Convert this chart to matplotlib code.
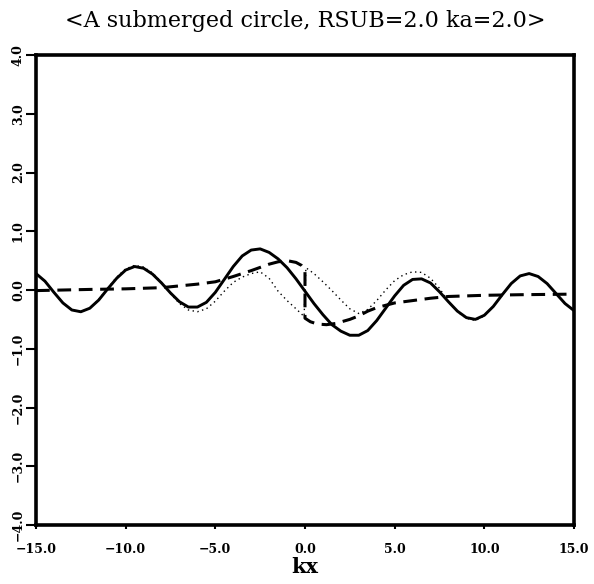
import matplotlib
matplotlib.use('Agg')
import matplotlib.pyplot as plt
import numpy as np

# values
kx = [-15.0, -14.5, -14.0, -13.5, -13.0, -12.5, -12.0, -11.5, -11.0, -10.5,
      -10.0, -9.5, -9.0, -8.5, -8.0, -7.5, -7.0, -6.5, -6.0, -5.5,
      -5.0, -4.5, -4.0, -3.5, -3.0, -2.5, -2.0, -1.5, -1.0, -0.5,
      0.0, 0.5, 1.0, 1.5, 2.0, 2.5, 3.0, 3.5, 4.0, 4.5,
      5.0, 5.5, 6.0, 6.5, 7.0, 7.5, 8.0, 8.5, 9.0, 9.5,
      10.0, 10.5, 11.0, 11.5, 12.0, 12.5, 13.0, 13.5, 14.0, 14.5, 15.0]
solid = [0.28, 0.15, -0.04, -0.22, -0.34, -0.37, -0.31, -0.17, 0.02, 0.20,
         0.34, 0.40, 0.37, 0.27, 0.12, -0.05, -0.20, -0.29, -0.29, -0.21,
         -0.04, 0.18, 0.40, 0.58, 0.68, 0.70, 0.64, 0.53, 0.38, 0.19,
         -0.02, -0.23, -0.42, -0.59, -0.70, -0.77, -0.77, -0.69, -0.52, -0.31,
         -0.10, 0.08, 0.18, 0.19, 0.12, -0.03, -0.20, -0.36, -0.47, -0.50,
         -0.43, -0.28, -0.08, 0.11, 0.24, 0.28, 0.23, 0.11, -0.06, -0.23, -0.35]

kx_dot = [-15.0, -14.5, -14.0, -13.5, -13.0, -12.5, -12.0, -11.5, -11.0, -10.5,
          -10.0, -9.5, -9.0, -8.5, -8.0, -7.5, -7.0, -6.5, -6.0, -5.5,
          -5.0, -4.5, -4.0, -3.5, -3.0, -2.5, -2.0, -1.5, -1.0, -0.5,
          -0.05, 0.05, 0.5, 1.0, 1.5, 2.0, 2.5, 3.0, 3.5, 4.0, 4.5,
          5.0, 5.5, 6.0, 6.5, 7.0, 7.5, 8.0, 8.5, 9.0, 9.5,
          10.0, 10.5, 11.0, 11.5, 12.0, 12.5, 13.0, 13.5, 14.0, 14.5, 15.0]
dotted = [0.28, 0.15, -0.04, -0.22, -0.34, -0.37, -0.31, -0.16, 0.03, 0.22,
          0.36, 0.42, 0.39, 0.29, 0.13, -0.06, -0.23, -0.34, -0.37, -0.32,
          -0.19, -0.02, 0.13, 0.22, 0.28, 0.31, 0.20, -0.02, -0.18, -0.32,
          -0.45, 0.38, 0.28, 0.14, -0.01, -0.17, -0.32, -0.40, -0.33, -0.18, 0.00,
          0.16, 0.26, 0.31, 0.30, 0.20, 0.03, -0.20, -0.37, -0.48, -0.52,
          -0.44, -0.28, -0.08, 0.11, 0.24, 0.28, 0.23, 0.11, -0.06, -0.23, -0.35]

kx_dash = [-15.0, -12.0, -10.0, -8.0, -6.0, -5.0, -4.0, -3.0, -2.0, -1.5,
           -1.0, -0.5, -0.2, 0.0, 0.0, 0.3, 0.7, 1.2, 1.7, 2.5,
           3.0, 3.5, 4.0, 5.0, 6.0, 7.0, 8.0, 10.0, 12.0, 15.0]
dashed = [-0.01, 0.01, 0.02, 0.04, 0.10, 0.14, 0.23, 0.33, 0.44, 0.48,
          0.50, 0.47, 0.42, 0.35, -0.48, -0.54, -0.58, -0.59, -0.57, -0.50,
          -0.44, -0.36, -0.30, -0.22, -0.18, -0.14, -0.11, -0.09, -0.08, -0.07]

xticks = [-15, -10, -5, 0, 5, 10, 15]
yticks = [-4, -3, -2, -1, 0, 1, 2, 3, 4]


def fmt(v):
    return '%.1f' % v if v >= 0 else '\u2212%.1f' % -v


fig = plt.figure(figsize=(5.94, 5.84), dpi=100)
ax = fig.add_axes([0.0606, 0.101, 0.9057, 0.8048])

ax.plot(kx, solid, color='black', linewidth=2.1, solid_joinstyle='round')
ax.plot(kx_dot, dotted, color='black', linewidth=1.0, linestyle=(0, (1, 2.5)))
ax.plot(kx_dash, dashed, color='black', linewidth=2.2, linestyle=(0, (4.5, 2.5)))

ax.set_xlim(-15, 15)
ax.set_ylim(-4, 4)
ax.set_xticks(xticks)
ax.set_yticks(yticks)
ax.set_xticklabels([fmt(v) for v in xticks],
                   fontfamily='DejaVu Serif', fontweight='bold', fontsize=9)
ax.set_yticklabels([fmt(v) for v in yticks],
                   fontfamily='DejaVu Serif', fontweight='bold', fontsize=9,
                   rotation=90, va='center')
ax.tick_params(axis='y', direction='out', length=7, width=1.5, pad=1)
ax.tick_params(axis='x', direction='out', length=3, width=1.5, pad=10)
for s in ax.spines.values():
    s.set_linewidth(2.6)

ax.set_xlabel('kx', fontfamily='DejaVu Serif', fontweight='bold', fontsize=15, labelpad=1)
ax.set_title('<A submerged circle, RSUB=2.0 ka=2.0>', fontfamily='DejaVu Serif',
             fontsize=16, pad=20)

plt.savefig('out.png', dpi=100)
